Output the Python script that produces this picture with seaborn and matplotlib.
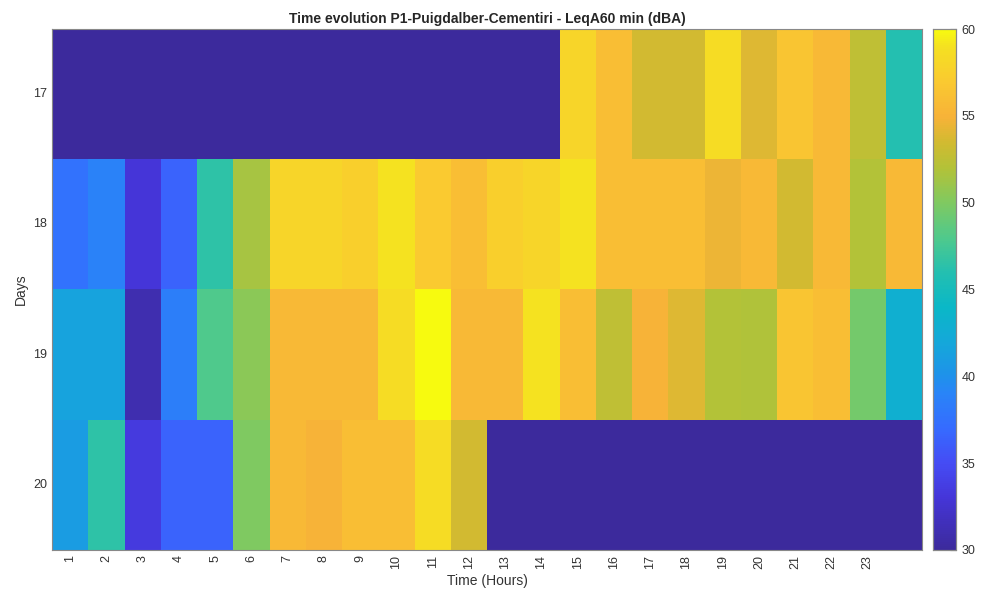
import numpy as np
import pandas as pd
import seaborn as sns
import matplotlib.pyplot as plt
from matplotlib.colors import LinearSegmentedColormap

# hourly LeqA60 values (dBA) per day, NaN = no measurement (drawn at colour-scale minimum)
days = [17, 18, 19, 20]
hours = list(range(1, 25))
hour_labels = [str(h) for h in range(1, 24)]

day17 = [np.nan] * 14 + [58, 56, 53.5, 53.5, 58.5, 54, 56.5, 55.5, 52.5, 46]
day18 = [37.5, 38.8, 33, 36.5, 46.5, 51.5, 58, 58, 57.5, 59, 57, 56,
         57.5, 58, 59, 56, 56, 56, 54.5, 55.5, 53.5, 55.5, 52, 55.5]
day19 = [41.5, 41.5, 31, 38.5, 48, 50.5, 55.5, 55.5, 55.5, 58.5, 60, 55.5,
         55.5, 59, 56, 52.5, 55, 54, 52, 51.8, 56.5, 56, 49.5, 43]
day20 = [41, 46.5, 33.5, 36.5, 36.5, 50, 55.5, 55, 56, 56, 58.5, 53.5] + [np.nan] * 12

vmin, vmax = 30, 60

# parula-like colormap, tuned by eye to the reference colour bar
parula = LinearSegmentedColormap.from_list('parula', [
    (0.000, (0.235, 0.165, 0.610)),
    (0.100, (0.270, 0.210, 0.850)),
    (0.167, (0.270, 0.300, 0.960)),
    (0.233, (0.210, 0.420, 1.000)),
    (0.300, (0.160, 0.520, 0.970)),
    (0.333, (0.120, 0.570, 0.920)),
    (0.400, (0.080, 0.660, 0.850)),
    (0.467, (0.040, 0.720, 0.780)),
    (0.533, (0.140, 0.750, 0.690)),
    (0.600, (0.310, 0.790, 0.550)),
    (0.667, (0.500, 0.790, 0.380)),
    (0.733, (0.700, 0.760, 0.220)),
    (0.783, (0.820, 0.730, 0.190)),
    (0.833, (0.970, 0.700, 0.220)),
    (0.900, (0.980, 0.790, 0.190)),
    (0.967, (0.960, 0.880, 0.130)),
    (1.000, (0.970, 0.980, 0.060)),
])

df = pd.DataFrame([day17, day18, day19, day20], index=days, columns=hours)
df = df.fillna(vmin)

sns.set_style('white')
plt.rcParams['font.family'] = ['Liberation Sans', 'DejaVu Sans']

fig = plt.figure(figsize=(9.81, 5.92), dpi=100)
ax = fig.add_axes([0.053, 0.071, 0.887, 0.880])
cax = fig.add_axes([0.951, 0.071, 0.024, 0.880])

sns.heatmap(df, ax=ax, cbar_ax=cax, cmap=parula, vmin=vmin, vmax=vmax)

ax.set_xticks(np.arange(len(hour_labels)) + 0.5)
ax.set_xticklabels(hour_labels, rotation=90, fontsize=9, color='#333333')
ax.set_yticks(np.arange(len(days)) + 0.5)
ax.set_yticklabels([str(d) for d in days], rotation=0, fontsize=9, color='#333333')
ax.tick_params(direction='in', length=5, color='#333333', top=True, right=True,
               bottom=True, left=True, labeltop=False, labelright=False)
ax.set_xlabel('Time (Hours)', fontsize=10, color='#333333')
ax.set_ylabel('Days', fontsize=10, color='#333333')
ax.set_title('Time evolution P1-Puigdalber-Cementiri - LeqA60 min (dBA)',
             fontsize=10, fontweight='bold', pad=4)
for s in ax.spines.values():
    s.set_visible(True)
    s.set_color('#888888')
    s.set_linewidth(0.8)

cax.set_yticks([30, 35, 40, 45, 50, 55, 60])
cax.tick_params(direction='in', length=4, labelsize=9, colors='#333333')
for s in cax.spines.values():
    s.set_visible(True)
    s.set_color('#888888')
    s.set_linewidth(0.8)

fig.savefig('out.png', dpi=100)
